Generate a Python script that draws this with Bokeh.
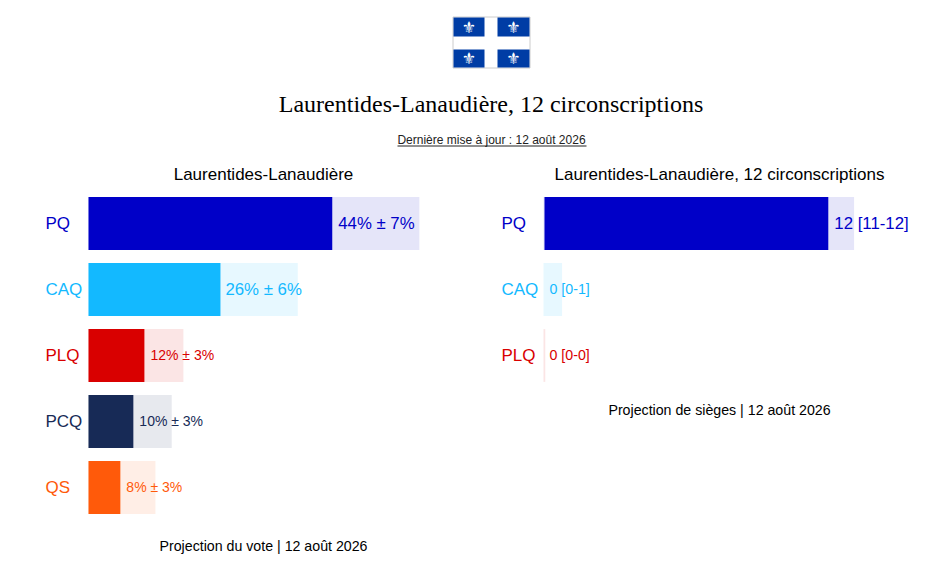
from bokeh.plotting import figure
from bokeh.models import Range1d
from bokeh.core.properties import value
from bokeh.embed import file_html
from bokeh.resources import INLINE

parties = ["PQ", "CAQ", "PLQ", "PCQ", "QS"]
colors = ["#0000C8", "#13B9FF", "#D90000", "#172A56", "#FF5A0A"]
vote_low = [37.5, 20.3, 8.6, 6.9, 4.9]
vote_high = [50.9, 32.2, 14.6, 12.8, 10.3]
vote_labels = ["44% ± 7%", "26% ± 6%", "12% ± 3%", "10% ± 3%", "8% ± 3%"]
seat_parties = ["PQ", "CAQ", "PLQ"]
seat_low = [11.0, 0.0, 0.0]
seat_high = [12.0, 0.68, 0.03]
seat_labels = ["12 [11-12]", "0 [0-1]", "0 [0-0]"]
title = "Laurentides-Lanaudière, 12 circonscriptions"
updated = "Dernière mise à jour : 12 août 2026"
left_head = "Laurentides-Lanaudière"
right_head = "Laurentides-Lanaudière, 12 circonscriptions"
left_foot = "Projection du vote | 12 août 2026"
right_foot = "Projection de sièges | 12 août 2026"

W, H = 932, 570
VOTE_PX = 6.5
SEAT_PX = 25.8
ROW0, ROW_STEP = 223, 66
ARIAL = value("Liberation Sans")

p = figure(width=W, height=H, output_backend="svg", toolbar_location=None,
           min_border=0, outline_line_color=None,
           x_range=Range1d(-88 / VOTE_PX, (W - 88) / VOTE_PX),
           y_range=Range1d((H - ROW0) / ROW_STEP, -ROW0 / ROW_STEP))
p.xaxis.visible = False
p.yaxis.visible = False
p.grid.visible = False
p.extra_x_ranges = {
    "seat": Range1d(-544 / SEAT_PX, (W - 544) / SEAT_PX),
    "px": Range1d(0, W),
}
p.extra_y_ranges = {"py": Range1d(H, 0)}


def txt(x, y, s, size, color="#000000", font=ARIAL, align="center", **kw):
    p.text([x], [y], text=[s], text_font=font, text_font_size=size, text_color=color,
           text_align=align, text_baseline="middle", x_range_name="px", y_range_name="py", **kw)


# flag
p.quad(left=[452.5], right=[529.5], top=[16.5], bottom=[67.5], fill_color="#FFFFFF",
       line_color="#CCCCCC", line_width=1, x_range_name="px", y_range_name="py")
for fx0, fx1 in ((453, 484), (497, 529)):
    for fy0, fy1 in ((17, 36), (49, 67)):
        p.quad(left=[fx0], right=[fx1], top=[fy0], bottom=[fy1], fill_color="#003DA5",
               line_color=None, x_range_name="px", y_range_name="py")
        txt((fx0 + fx1) / 2, (fy0 + fy1) / 2, "⚜", "16px", "#FFFFFF", value("DejaVu Sans"))

# headings
txt(490.5, 103, title, "24px", "#000000", value("Liberation Serif"))
txt(491, 139, updated, "12px", "#222222")
p.quad(left=[397], right=[586], top=[145], bottom=[146], fill_color="#222222", line_color=None,
       x_range_name="px", y_range_name="py")
txt(263, 174, left_head, "17px")
txt(719, 174, right_head, "17px")
txt(263, 545, left_foot, "14.2px")
txt(719, 409, right_foot, "14.2px")

# vote bars
for i, (name, c, lo, hi, lab) in enumerate(zip(parties, colors, vote_low, vote_high, vote_labels)):
    big = i < 2
    p.quad(left=[0], right=[hi], top=[i - 0.4], bottom=[i + 0.4], fill_color=c, fill_alpha=0.1, line_color=None)
    p.quad(left=[0], right=[lo], top=[i - 0.4], bottom=[i + 0.4], fill_color=c, line_color=None)
    p.text([0], [i], text=[name], x_offset=-43, text_font=ARIAL, text_font_size="17px", text_color=c,
           text_align="left", text_baseline="middle")
    p.text([lo], [i], text=[lab], x_offset=5 if i == 1 else 6, y_offset=0 if big else -1, text_font=ARIAL,
           text_font_size="16.8px" if big else "14px", text_color=c,
           text_align="left", text_baseline="middle")

# seat bars
for i, (name, c, lo, hi, lab) in enumerate(zip(seat_parties, colors, seat_low, seat_high, seat_labels)):
    big = i == 0
    p.quad(left=[-0.04], right=[hi], top=[i - 0.4], bottom=[i + 0.4], fill_color=c, fill_alpha=0.1,
           line_color=None, x_range_name="seat")
    p.quad(left=[0], right=[lo], top=[i - 0.4], bottom=[i + 0.4], fill_color=c, line_color=None, x_range_name="seat")
    p.text([0], [i], text=[name], x_offset=-43, text_font=ARIAL, text_font_size="17px", text_color=c,
           text_align="left", text_baseline="middle", x_range_name="seat")
    p.text([lo], [i], text=[lab], x_offset=6 if big else 5, y_offset=0 if big else -1, text_font=ARIAL,
           text_font_size="16.8px" if big else "14.2px", text_color=c,
           text_align="left", text_baseline="middle", x_range_name="seat")

open("out.html", "w").write(file_html(p, INLINE))
